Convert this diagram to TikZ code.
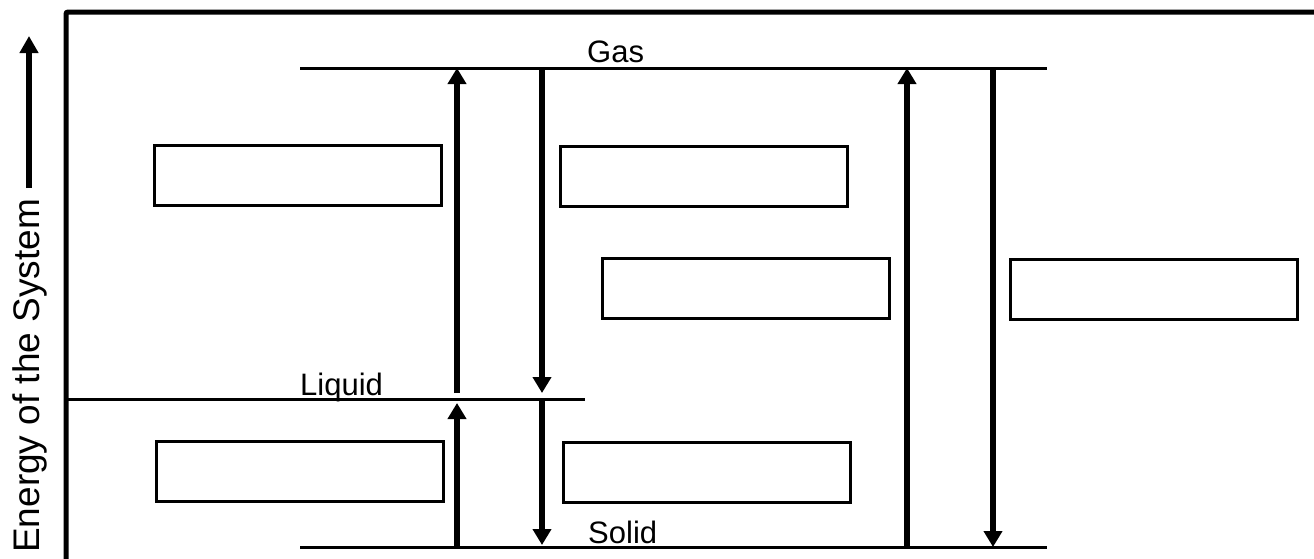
\documentclass[tikz,border=0pt]{standalone}
\usepackage{fontspec}
\setmainfont{Liberation Sans}
\usetikzlibrary{arrows.meta}
\begin{document}
\begin{tikzpicture}[x=1pt,y=-1pt,
  level/.style={line width=3pt},
  trans/.style={line width=5.5pt,-{Triangle[width=18pt,length=16pt]}},
  blank/.style={draw,line width=2.5pt,minimum width=287pt,minimum height=60pt,inner sep=0pt,anchor=north west},
  lbl/.style={font=\fontsize{31}{31}\selectfont,inner sep=0pt,anchor=base west}]
\useasboundingbox (0,0) rectangle (1314,558);

% frame
\draw[line width=5pt,rounded corners=2pt] (66,562) -- (66,12) -- (1318,12);

% energy axis
\coordinate (ea) at (29,188);
\coordinate (eb) at (29,36);
\draw[line width=6pt,-{Triangle[width=18pt,length=17pt]}] (ea) -- (eb);
\node[lbl,font=\fontsize{37}{37}\selectfont,rotate=90] (elabel) at (39,553) {Energy of the System};

% energy levels
\coordinate (g0) at (300,68);  \coordinate (g1) at (1047,68);
\coordinate (l0) at (66,399);  \coordinate (l1) at (585,399);
\coordinate (s0) at (300,547); \coordinate (s1) at (1047,547);
\draw[level] (g0) -- (g1);
\draw[level] (l0) -- (l1);
\draw[level] (s0) -- (s1);

\node[lbl] (gas) at (587,62) {Gas};
\node[lbl] (liquid) at (300,395) {Liquid};
\node[lbl] (solid) at (588,543) {Solid};

% transition arrows
\coordinate (a1s) at (457,393); \coordinate (a1e) at (457,68);
\coordinate (a2s) at (457,547); \coordinate (a2e) at (457,403);
\coordinate (b1s) at (542,68);  \coordinate (b1e) at (542,393);
\coordinate (b2s) at (542,399); \coordinate (b2e) at (542,545);
\coordinate (c1s) at (907,547); \coordinate (c1e) at (907,68);
\coordinate (d1s) at (993,68);  \coordinate (d1e) at (993,547);
\draw[trans] (a1s) -- (a1e);
\draw[trans] (a2s) -- (a2e);
\draw[trans] (b1s) -- (b1e);
\draw[trans] (b2s) -- (b2e);
\draw[trans] (c1s) -- (c1e);
\draw[trans] (d1s) -- (d1e);

% empty answer boxes
\node[blank] (box1) at (153,144) {};
\node[blank] (box2) at (559,145) {};
\node[blank] (box3) at (601,257) {};
\node[blank] (box4) at (1009,258) {};
\node[blank] (box5) at (155,440) {};
\node[blank] (box6) at (562,441) {};
\end{tikzpicture}
\end{document}
